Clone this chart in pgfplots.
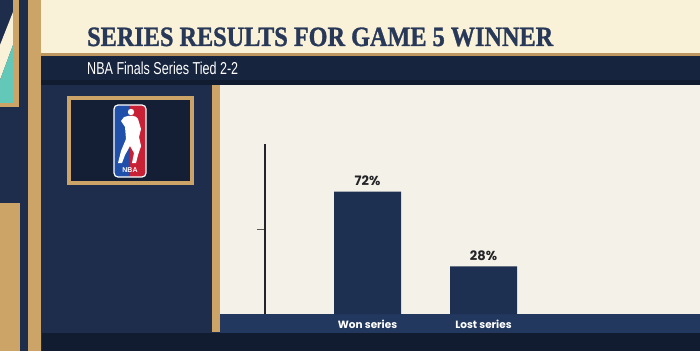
\documentclass[border=0pt]{standalone}
\usepackage{graphicx}
\usepackage{pgfplots}
\pgfplotsset{compat=1.18}
\usepackage{fontspec}
\setmainfont{Liberation Sans}
\newfontfamily\titlefont{Liberation Serif}[BoldFeatures={FakeBold=1.2}]
\newfontfamily\pop{Poppins}
\definecolor{bgnavy}{RGB}{30,45,76}
\definecolor{darknavy}{RGB}{18,28,48}
\definecolor{subnavy}{RGB}{22,36,62}
\definecolor{barnavy}{RGB}{30,48,82}
\definecolor{botnavy}{RGB}{34,56,94}
\definecolor{cream}{RGB}{249,241,216}
\definecolor{panel}{RGB}{244,242,232}
\definecolor{wood}{RGB}{204,164,104}
\definecolor{tan}{RGB}{190,150,95}
\definecolor{teal}{RGB}{100,200,185}
\definecolor{titlenavy}{RGB}{40,56,88}
\definecolor{nbablue}{RGB}{32,80,170}
\definecolor{nbared}{RGB}{200,32,52}
\definecolor{axisdark}{RGB}{35,35,40}
\begin{document}
\begin{tikzpicture}[x=1pt,y=1pt]
\useasboundingbox (0,0) rectangle (700,351);
% background
\fill[bgnavy] (0,0) rectangle (700,351);
% header
\fill[cream] (38,298) rectangle (700,351);
\fill[tan] (38,295) rectangle (700,298);
\fill[subnavy] (38,271) rectangle (700,295);
\fill[darknavy] (38,266) rectangle (700,271);
% chart panel
\fill[panel] (220,37) rectangle (700,266);
\fill[botnavy] (220,18) rectangle (700,37);
\fill[wood] (212,19) rectangle (220,266);
\fill[darknavy] (42,0) rectangle (700,18);
% left decorations
\fill[cream] (0,306) -- (13,339) -- (13,306) -- (0,271) -- cycle;
\fill[teal] (0,271) -- (13,306) -- (13,248) -- (0,248) -- cycle;
\fill[wood] (13,244) rectangle (19,351);
\fill[wood] (0,244) rectangle (19,248);
\fill[wood] (28,0) rectangle (41,351);
\fill[wood] (0,0) rectangle (20,148);
% NBA frame
\fill[wood] (67,166) rectangle (194,255);
\fill[darknavy!80!bgnavy] (71,170) rectangle (190,251);
% NBA logo
\begin{scope}
\clip[rounded corners=4pt] (114,174) rectangle (146,246);
\fill[nbablue] (114,174) rectangle (130,246);
\fill[nbared] (130,174) rectangle (146,246);
\fill[white] (131,239) circle (3.2);
\fill[white] (124,234) .. controls (130,236) and (136,236) .. (138,232)
  -- (141,222) -- (139,214) -- (141,205) -- (138,196) -- (136,188)
  -- (132,188) -- (134,198) -- (130,205) -- (125,196) -- (122,188)
  -- (118,188) -- (121,200) -- (126,212) -- (125,224) -- (121,230) -- cycle;
\fill[white] (138,205) circle (3);
\end{scope}
\draw[white, line width=1.2pt, rounded corners=4pt] (114,174) rectangle (146,246);
\node[white, font=\bfseries\fontsize{7}{8}\selectfont, inner sep=0] at (130,181) {NBA};
% titles
\node[anchor=base west, inner sep=0, text=titlenavy] at (87,305)
  {\resizebox{466pt}{18.5pt}{\titlefont\bfseries SERIES RESULTS FOR GAME 5 WINNER}};
\node[anchor=base west, inner sep=0, text=white] at (87,276)
  {\resizebox{151pt}{12.5pt}{NBA Finals Series Tied 2-2}};
\coordinate (O) at (367.5,37);
% chart
\begin{axis}[
  at={(O)}, anchor=origin,
  scale only axis, width=435pt, height=170pt,
  xmin=-0.88, xmax=2.87, ymin=0, ymax=100,
  clip=false,
  axis y line*=left, axis x line*=bottom,
  every outer y axis line/.append style={draw=axisdark, line width=2pt},
  every outer x axis line/.append style={draw=none},
  xtick={0,1}, xticklabels={Won series, Lost series},
  xtick style={draw=none},
  xticklabel style={anchor=center, yshift=-2pt, text=white,
    font=\pop\bfseries\fontsize{10.5}{12}\selectfont},
  ytick={50}, yticklabels={},
  tick align=outside, major tick length=8pt,
  ytick style={draw=gray!70!black, line width=1pt},
  ybar, bar width=67pt,
  /pgf/number format/assume math mode=true,
  nodes near coords={\pgfmathprintnumber{\pgfplotspointmeta}\%},
  every node near coord/.append style={text=axisdark, yshift=2pt,
    font=\pop\bfseries\fontsize{13}{15}\selectfont},
]
\addplot[fill=barnavy, draw=none] coordinates {(0,72) (1,28)};
\end{axis}
\end{tikzpicture}
\end{document}
